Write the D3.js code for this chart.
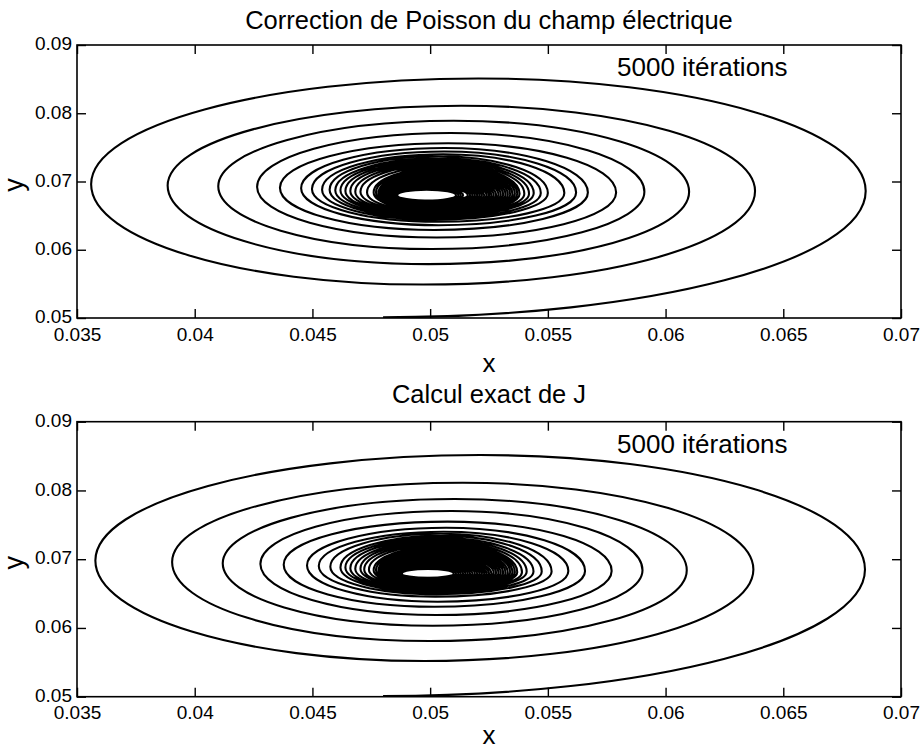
<!DOCTYPE html>
<html>
<head>
<meta charset="utf-8">
<script src="https://cdn.jsdelivr.net/npm/d3@7"></script>
<style>
  body { margin: 0; background: #fff; }
  text { font-family: "Liberation Sans", Arial, Helvetica, sans-serif; fill: #000; }
</style>
</head>
<body>
<svg id="chart" width="920" height="749"></svg>
<script>
const xTickValues = [0.035, 0.04, 0.045, 0.05, 0.055, 0.06, 0.065, 0.07];
const xTickLabels = ['0.035', '0.04', '0.045', '0.05', '0.055', '0.06', '0.065', '0.07'];
const yTickValues = [0.05, 0.06, 0.07, 0.08, 0.09];
const yTickLabels = ['0.05', '0.06', '0.07', '0.08', '0.09'];
const panelTitles = ['Correction de Poisson du champ électrique', 'Calcul exact de J'];
const annotation = '5000 itérations';

// trajectory: one entry per turn, outer to inner
// (right tip, top, left tip, bottom) plus the height of the two tips
const poissonStart = [0.048, 0.0501];
const poissonRight = [0.0685, 0.0638, 0.0610, 0.0591, 0.0579, 0.0567, 0.0562, 0.0557, 0.0550, 0.0547,
  0.0544, 0.0542, 0.0540, 0.0538, 0.0537, 0.0536, 0.0535, 0.0534, 0.0533, 0.0532,
  0.0531, 0.0530, 0.0529, 0.0528, 0.0527, 0.0526, 0.0525, 0.0524, 0.0523, 0.0522,
  0.0521, 0.0520, 0.0519, 0.0518, 0.0517, 0.0516, 0.0514, 0.0513, 0.0512, 0.0511];
const poissonTop = [0.0851, 0.0811, 0.0789, 0.0771, 0.0756, 0.0749, 0.0744, 0.0740, 0.0737, 0.0734,
  0.0732, 0.0730, 0.0728, 0.0726, 0.0724, 0.0722, 0.0720, 0.0718, 0.0716, 0.0714,
  0.0712, 0.0710, 0.0708, 0.0706, 0.0704, 0.0702, 0.0700, 0.0699, 0.0698, 0.0697,
  0.0696, 0.0695, 0.0694, 0.0693, 0.0692, 0.0691, 0.0690, 0.0689, 0.06885, 0.0688];
const poissonLeft = [0.0356, 0.03885, 0.0410, 0.04265, 0.04362, 0.04452, 0.04498, 0.04541, 0.04573, 0.04597,
  0.04619, 0.0464, 0.04661, 0.04682, 0.04704, 0.04732, 0.0476, 0.0477, 0.0478, 0.04785,
  0.0479, 0.04795, 0.0480, 0.04805, 0.0481, 0.04815, 0.0482, 0.04825, 0.0483, 0.04835,
  0.0484, 0.04845, 0.0485, 0.04853, 0.04856, 0.04858, 0.0486, 0.0486, 0.0486, 0.0486];
const poissonBottom = [0.0549, 0.0579, 0.0601, 0.0618, 0.0629, 0.0636, 0.0641, 0.0644, 0.0646, 0.0648,
  0.0650, 0.0651, 0.0652, 0.0653, 0.0654, 0.0655, 0.0656, 0.0657, 0.0658, 0.0659,
  0.0660, 0.0661, 0.0662, 0.0663, 0.0664, 0.0665, 0.0666, 0.0667, 0.0668, 0.0669,
  0.0670, 0.0670, 0.0671, 0.0671, 0.0672, 0.0672, 0.0672, 0.0672, 0.0672, 0.0672];
const poissonRightY = [0.0686, 0.0686, 0.0685, 0.0685, 0.0684, 0.0684, 0.0684, 0.0683, 0.0683, 0.0683,
  0.0683, 0.0682, 0.0682, 0.0682, 0.0682, 0.0682, 0.0681, 0.0681, 0.0681, 0.0681,
  0.0681, 0.0681, 0.0681, 0.0680, 0.0680, 0.0680, 0.0680, 0.0680, 0.0680, 0.0680,
  0.0680, 0.0680, 0.0680, 0.0680, 0.0680, 0.0680, 0.0680, 0.0680, 0.0680, 0.0680];
const poissonLeftY = [0.0696, 0.0694, 0.0693, 0.0692, 0.0691, 0.0690, 0.0689, 0.0688, 0.0688, 0.0687,
  0.0687, 0.0686, 0.0686, 0.0685, 0.0685, 0.0684, 0.0684, 0.0684, 0.0683, 0.0683,
  0.0683, 0.0682, 0.0682, 0.0682, 0.0682, 0.0681, 0.0681, 0.0681, 0.0681, 0.0681,
  0.0680, 0.0680, 0.0680, 0.0680, 0.0680, 0.0680, 0.0680, 0.0680, 0.0680, 0.0680];

const exactStart = [0.048, 0.0501];
const exactRight = [0.06847, 0.06373, 0.0609, 0.05902, 0.05771, 0.05658, 0.05587, 0.05516, 0.05474, 0.05439,
  0.0541, 0.0539, 0.0537, 0.0536, 0.0535, 0.0534, 0.0533, 0.0532, 0.0531, 0.0530,
  0.0529, 0.0528, 0.0527, 0.0526, 0.0525, 0.0524, 0.0523, 0.0522, 0.0521, 0.0520,
  0.0519, 0.0518, 0.0517, 0.0516, 0.0515, 0.0514, 0.0513, 0.0512, 0.0511, 0.0510];
const exactTop = [0.08515, 0.08113, 0.07875, 0.07701, 0.07546, 0.07458, 0.0740, 0.0737, 0.0734, 0.0731,
  0.0729, 0.0727, 0.0725, 0.0723, 0.0721, 0.0719, 0.0717, 0.0715, 0.0713, 0.0711,
  0.0709, 0.0707, 0.0705, 0.0703, 0.0701, 0.0699, 0.0698, 0.0697, 0.0696, 0.0695,
  0.0694, 0.0693, 0.0692, 0.0691, 0.0690, 0.0689, 0.0688, 0.06875, 0.0687, 0.0686];
const exactLeft = [0.03578, 0.03904, 0.04119, 0.04279, 0.04378, 0.04477, 0.04527, 0.04576, 0.04619, 0.0464,
  0.04661, 0.04682, 0.04704, 0.0472, 0.0474, 0.0476, 0.0477, 0.0478, 0.04785, 0.0479,
  0.04795, 0.0480, 0.04805, 0.0481, 0.04815, 0.0482, 0.04825, 0.0483, 0.04835, 0.0484,
  0.04845, 0.0485, 0.04855, 0.0486, 0.04865, 0.0487, 0.04873, 0.04876, 0.04878, 0.0488];
const exactBottom = [0.05519, 0.0581, 0.06033, 0.06188, 0.06309, 0.06382, 0.06455, 0.0649, 0.0651, 0.0653,
  0.0654, 0.0655, 0.0656, 0.0657, 0.0658, 0.0659, 0.0660, 0.0661, 0.0662, 0.0663,
  0.0664, 0.0665, 0.0666, 0.0667, 0.0668, 0.0669, 0.0670, 0.0670, 0.0671, 0.0671,
  0.0672, 0.0672, 0.0672, 0.0673, 0.0673, 0.0673, 0.0673, 0.0673, 0.0673, 0.0673];
const exactRightY = [0.0685, 0.0685, 0.0684, 0.0684, 0.0683, 0.0683, 0.0683, 0.0682, 0.0682, 0.0682,
  0.0682, 0.0681, 0.0681, 0.0681, 0.0681, 0.0681, 0.0680, 0.0680, 0.0680, 0.0680,
  0.0680, 0.0680, 0.0680, 0.0679, 0.0679, 0.0679, 0.0679, 0.0679, 0.0679, 0.0679,
  0.0679, 0.0679, 0.0679, 0.0679, 0.0679, 0.0679, 0.0679, 0.0679, 0.0679, 0.0679];
const exactLeftY = [0.0698, 0.0696, 0.0694, 0.0693, 0.0692, 0.0691, 0.0690, 0.0689, 0.0688, 0.0688,
  0.0687, 0.0686, 0.0686, 0.0685, 0.0685, 0.0684, 0.0684, 0.0683, 0.0683, 0.0683,
  0.0682, 0.0682, 0.0682, 0.0681, 0.0681, 0.0681, 0.0681, 0.0680, 0.0680, 0.0680,
  0.0680, 0.0680, 0.0679, 0.0679, 0.0679, 0.0679, 0.0679, 0.0679, 0.0679, 0.0679];

const svg = d3.select('#chart');
const left = 77, right = 901;
const kappa = 0.5523;

const panels = [
  {title: panelTitles[0], top: 45, bottom: 318, titleY: 29, tickPad: 10, xLabelY: 372,
    start: poissonStart, rightX: poissonRight, topY: poissonTop, leftX: poissonLeft,
    bottomY: poissonBottom, rightY: poissonRightY, leftY: poissonLeftY},
  {title: panelTitles[1], top: 421.7, bottom: 696.7, titleY: 403, tickPad: 9, xLabelY: 744,
    start: exactStart, rightX: exactRight, topY: exactTop, leftX: exactLeft,
    bottomY: exactBottom, rightY: exactRightY, leftY: exactLeftY}
];

panels.forEach(function (p, pi) {
  const x = d3.scaleLinear().domain([0.035, 0.07]).range([left, right]);
  const y = d3.scaleLinear().domain([0.05, 0.09]).range([p.bottom, p.top]);
  const g = svg.append('g');

  g.append('defs').append('clipPath')
      .attr('id', 'clip' + pi)
      .append('rect')
      .attr('x', left).attr('y', p.top)
      .attr('width', right - left).attr('height', p.bottom - p.top);

  // points along the spiral, alternating flat (top/bottom) and tip (left/right)
  const pts = [{p: [x(p.start[0]), y(p.start[1])], tip: false}];
  const n = p.rightX.length;
  for (let i = 0; i < n; i++) {
    const midTop = (p.rightX[i] + p.leftX[i]) / 2;
    const nextRight = i + 1 < n ? p.rightX[i + 1] : p.rightX[i];
    const midBottom = (p.leftX[i] + nextRight) / 2;
    pts.push({p: [x(p.rightX[i]), y(p.rightY[i])], tip: true});
    pts.push({p: [x(midTop), y(p.topY[i])], tip: false});
    pts.push({p: [x(p.leftX[i]), y(p.leftY[i])], tip: true});
    pts.push({p: [x(midBottom), y(p.bottomY[i])], tip: false});
  }

  const path = d3.path();
  path.moveTo(pts[0].p[0], pts[0].p[1]);
  for (let i = 1; i < pts.length; i++) {
    const a = pts[i - 1].p, b = pts[i].p;
    if (pts[i - 1].tip) {
      path.bezierCurveTo(a[0], a[1] + kappa * (b[1] - a[1]),
          b[0] + kappa * (a[0] - b[0]), b[1], b[0], b[1]);
    } else {
      path.bezierCurveTo(a[0] + kappa * (b[0] - a[0]), a[1],
          b[0], b[1] + kappa * (a[1] - b[1]), b[0], b[1]);
    }
  }

  g.append('path')
      .attr('d', path.toString())
      .attr('clip-path', 'url(#clip' + pi + ')')
      .attr('fill', 'none')
      .attr('stroke', '#000')
      .attr('stroke-width', 2.1);

  // axes, ticks pointing inwards
  const xAxis = d3.axisBottom(x).tickValues(xTickValues)
      .tickFormat((d, i) => xTickLabels[i]).tickSize(-9).tickSizeOuter(0).tickPadding(p.tickPad);
  const yAxis = d3.axisLeft(y).tickValues(yTickValues)
      .tickFormat((d, i) => yTickLabels[i]).tickSize(-9).tickSizeOuter(0).tickPadding(5);

  g.append('g').attr('transform', 'translate(0,' + p.bottom + ')').call(xAxis);
  g.append('g').attr('class', 'yaxis').attr('transform', 'translate(' + left + ',0)').call(yAxis);
  g.append('g').attr('transform', 'translate(0,' + p.top + ')')
      .call(d3.axisTop(x).tickValues(xTickValues).tickFormat('').tickSize(-9).tickSizeOuter(0));
  g.append('g').attr('transform', 'translate(' + right + ',0)')
      .call(d3.axisRight(y).tickValues(yTickValues).tickFormat('').tickSize(-9).tickSizeOuter(0));

  g.selectAll('.domain').remove();
  g.selectAll('.tick line').attr('stroke', '#000').attr('stroke-width', 1.4);
  g.selectAll('.tick text').attr('font-size', 19)
      .style('font-family', '"Liberation Sans", Arial, sans-serif');
  g.selectAll('.yaxis .tick text').attr('dy', '0.25em');

  g.append('rect')
      .attr('x', left).attr('y', p.top)
      .attr('width', right - left).attr('height', p.bottom - p.top)
      .attr('fill', 'none').attr('stroke', '#000').attr('stroke-width', 1.6);

  g.append('text')
      .attr('x', (left + right) / 2).attr('y', p.titleY)
      .attr('text-anchor', 'middle').attr('font-size', 25.5)
      .text(p.title);

  g.append('text')
      .attr('x', 617).attr('y', p.top + 31)
      .attr('font-size', 26)
      .text(annotation);

  g.append('text')
      .attr('x', (left + right) / 2).attr('y', p.xLabelY)
      .attr('text-anchor', 'middle').attr('font-size', 26)
      .text('x');

  g.append('text')
      .attr('transform', 'translate(23,' + y(0.0695) + ') rotate(-90)')
      .attr('text-anchor', 'middle').attr('font-size', 27)
      .text('y');
});
</script>
</body>
</html>
